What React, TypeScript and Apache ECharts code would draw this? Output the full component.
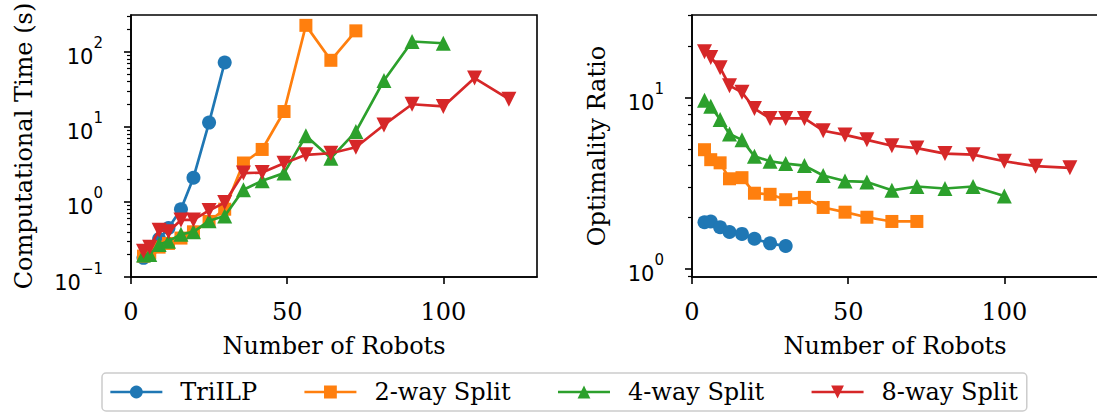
import React, { useEffect, useRef } from 'react';
import * as echarts from 'echarts';

// Number of robots (x) shared by all methods; each method covers a prefix.
const robots = [4, 6, 9, 12, 16, 20, 25, 30, 36, 42, 49, 56, 64, 72, 81, 90, 100, 110, 121];

const seriesNames = ['TriILP', '2-way Split', '4-way Split', '8-way Split'];

// Computational time (s)
const triILPTime = [0.18, 0.22, 0.32, 0.45, 0.8, 2.1, 11.4, 72];
const split2Time = [0.19, 0.21, 0.25, 0.28, 0.33, 0.4, 0.55, 0.8, 3.3, 5.0, 16, 225, 77, 190];
const split4Time = [0.196, 0.2, 0.27, 0.3, 0.37, 0.4, 0.56, 0.65, 1.45, 1.92, 2.42, 7.6, 3.83, 8.65, 41.5, 137, 130];
const split8Time = [0.22, 0.25, 0.42, 0.4, 0.575, 0.575, 0.77, 0.98, 2.42, 2.46, 3.28, 4.24, 4.45, 5.36, 10.6, 20.0, 18.7, 44.6, 23.4];

// Optimality ratio
const triILPRatio = [1.86, 1.88, 1.74, 1.63, 1.59, 1.49, 1.4, 1.35];
const split2Ratio = [4.94, 4.32, 4.14, 3.34, 3.39, 2.75, 2.71, 2.52, 2.6, 2.27, 2.13, 1.99, 1.88, 1.88];
const split4Ratio = [9.6, 8.87, 7.43, 6.11, 5.64, 4.52, 4.23, 4.1, 3.99, 3.49, 3.24, 3.2, 2.86, 3.01, 2.93, 3.01, 2.65];
const split8Ratio = [18.5, 17.1, 14.9, 11.7, 10.7, 8.6, 7.53, 7.53, 7.53, 6.38, 6.03, 5.64, 5.21, 5.05, 4.69, 4.62, 4.23, 3.96, 3.87];

// Axis ticks
const xTicks = [0, 50, 100];
const timeMajorTicks = [0.1, 1, 10, 100];
const timeMinorTicks = [0.2, 0.3, 0.4, 0.5, 0.6, 0.7, 0.8, 0.9, 2, 3, 4, 5, 6, 7, 8, 9, 20, 30, 40, 50, 60, 70, 80, 90, 200, 300];
const ratioMajorTicks = [1, 10];
const ratioMinorTicks = [0.9, 2, 3, 4, 5, 6, 7, 8, 9, 20, 30];

const colors = ['#1f77b4', '#ff7f0e', '#2ca02c', '#d62728'];
const symbols = ['circle', 'rect', 'triangle', 'triangle'];
const symbolRotates = [0, 0, 0, 180];
const symbolSizes = [14, 13, 15, 15];

const SERIF = 'DejaVu Serif';
const SANS = 'DejaVu Sans';

const pow10Label = (v: number) => {
  const e = Math.round(Math.log10(v));
  if (Math.abs(Math.log10(v) - e) > 1e-6) return '';
  const s = e < 0 ? '\u2212' + String(-e) : String(e);
  return `{b|10}{s|${s}}`;
};

const powRich = {
  b: { fontSize: 21, fontFamily: SANS, color: '#000', lineHeight: 32, verticalAlign: 'bottom' },
  s: { fontSize: 15, fontFamily: SANS, color: '#000', lineHeight: 15, verticalAlign: 'top' },
};

export default function App() {
  const ref = useRef<HTMLDivElement>(null);

  useEffect(() => {
    if (!ref.current) return;
    const chart = echarts.init(ref.current, undefined, { renderer: 'svg' });

    const timeData = [triILPTime, split2Time, split4Time, split8Time];
    const ratioData = [triILPRatio, split2Ratio, split4Ratio, split8Ratio];

    const mkSeries = (vals: number[], i: number, grid: number) => ({
      name: seriesNames[i],
      type: 'line',
      xAxisIndex: grid,
      yAxisIndex: grid,
      data: vals.map((v, k) => [robots[k], v]),
      symbol: symbols[i],
      symbolSize: symbolSizes[i],
      symbolRotate: symbolRotates[i],
      showAllSymbol: true,
      lineStyle: { color: colors[i], width: 2.7 },
      itemStyle: { color: colors[i], borderWidth: 0 },
      emphasis: { disabled: true },
      z: 2 + i,
    });

    const xAxisBase = (grid: number) => ({
      type: 'value',
      gridIndex: grid,
      min: 0,
      max: 130,
      interval: 50,
      name: 'Number of Robots',
      nameLocation: 'middle',
      nameGap: 57,
      nameTextStyle: { fontFamily: SERIF, fontSize: 24, color: '#000' },
      axisLine: { show: true, onZero: false, lineStyle: { color: '#000', width: 1.6 } },
      axisTick: { show: true, inside: false, length: 7, customValues: xTicks, lineStyle: { color: '#000', width: 1.6 } },
      axisLabel: { show: true, customValues: xTicks, margin: 23, fontFamily: SERIF, fontSize: 24, color: '#000' },
      splitLine: { show: false },
    });

    const yMajor = (grid: number, min: number, max: number, ticks: number[], name: string, gap: number) => ({
      type: 'log',
      logBase: 10,
      gridIndex: grid,
      position: 'left',
      min,
      max,
      name,
      nameLocation: 'middle',
      nameGap: gap,
      nameTextStyle: { fontFamily: SERIF, fontSize: 24, color: '#000' },
      axisLine: { show: true, lineStyle: { color: '#000', width: 1.6 } },
      axisTick: { show: true, inside: false, length: 7, customValues: ticks, lineStyle: { color: '#000', width: 1.6 } },
      axisLabel: { show: true, customValues: ticks, margin: 28, formatter: pow10Label, rich: powRich },
      splitLine: { show: false },
    });

    const yMinor = (grid: number, min: number, max: number, ticks: number[]) => ({
      type: 'log',
      logBase: 10,
      gridIndex: grid,
      position: 'left',
      offset: 0,
      min,
      max,
      axisLine: { show: false },
      axisTick: { show: true, inside: false, length: 4, customValues: ticks, lineStyle: { color: '#000', width: 1.2 } },
      axisLabel: { show: false },
      splitLine: { show: false },
    });

    const option = {
      animation: false,
      backgroundColor: '#fff',
      grid: [
        { left: 131, top: 15, width: 406, height: 262, show: true, borderColor: '#000', borderWidth: 1.6, backgroundColor: 'transparent', containLabel: false, outerBoundsMode: 'none' },
        { left: 692, top: 15, width: 406, height: 262, show: true, borderColor: '#000', borderWidth: 1.6, backgroundColor: 'transparent', containLabel: false, outerBoundsMode: 'none' },
      ],
      xAxis: [xAxisBase(0), xAxisBase(1)],
      yAxis: [
        yMajor(0, 0.1, 309, timeMajorTicks, 'Computational Time (s)', 95),
        yMajor(1, 0.89, 30.3, ratioMajorTicks, 'Optimality Ratio', 83),
        yMinor(0, 0.1, 309, timeMinorTicks),
        yMinor(1, 0.89, 30.3, ratioMinorTicks),
      ],
      legend: {
        show: true,
        data: seriesNames,
        left: 102,
        top: 373,
        orient: 'horizontal',
        itemWidth: 52,
        itemHeight: 16,
        itemGap: 46,
        padding: [7, 9, 7, 7],
        borderColor: '#cccccc',
        borderWidth: 1.5,
        borderRadius: 4,
        backgroundColor: '#fff',
        selectedMode: false,
        lineStyle: { width: 2.7 },
        formatter: '{n|{name}}',
        textStyle: {
          fontFamily: SERIF,
          fontSize: 24,
          color: '#000',
          rich: { n: { fontFamily: SERIF, fontSize: 24, color: '#000', padding: [0, 0, 0, 13], lineHeight: 26 } },
        },
      },
      series: [
        ...timeData.map((d, i) => mkSeries(d, i, 0)),
        ...ratioData.map((d, i) => mkSeries(d, i, 1)),
      ],
    };

    chart.setOption(option as any);
    return () => chart.dispose();
  }, []);

  return (
    <div
      ref={ref}
      style={{ position: 'fixed', left: 0, top: 0, width: 1097, height: 415, background: '#fff' }}
    />
  );
}
